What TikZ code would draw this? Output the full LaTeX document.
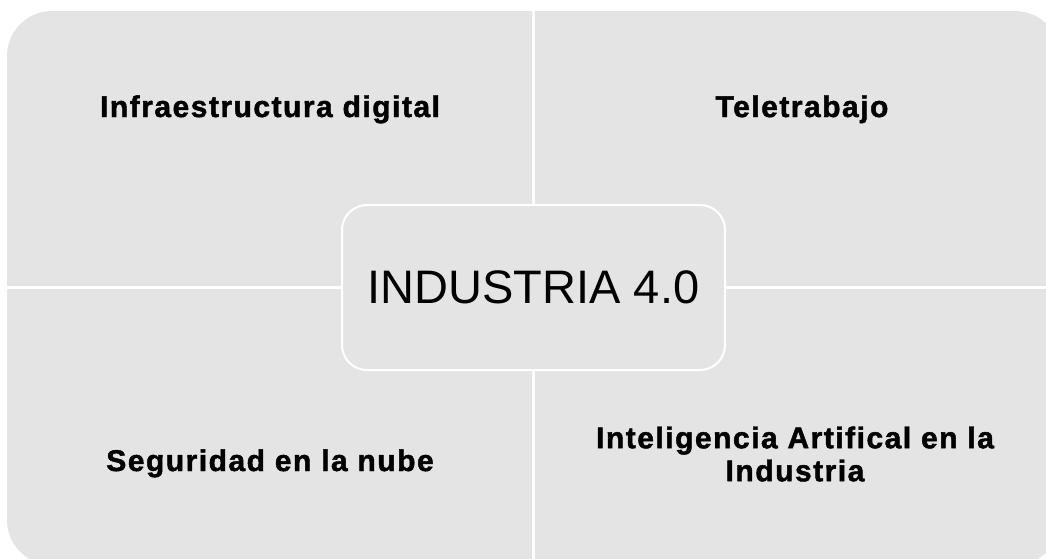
\documentclass[tikz,border=0pt]{standalone}
\usepackage{fontspec}
\setmainfont{Liberation Sans}
\newfontfamily\lblfont[LetterSpace=5,FakeBold=1.5]{Liberation Sans Bold}
\definecolor{quadgray}{HTML}{E4E4E4}

\begin{document}
\begin{tikzpicture}[x=1pt,y=-1pt]
	\tikzset{%
		quad/.style={fill=quadgray},
		lbl/.style={font=\lblfont\fontsize{30}{33}\selectfont,align=center,inner sep=0pt},
		hub/.style={draw=white,line width=2pt,fill=quadgray,rounded corners=25pt,minimum width=383pt,minimum height=165pt,font=\fontsize{47}{56}\selectfont},
	}

	\def\rad{45}

	\clip (0,0) rectangle (1046,558);

	% four quadrants, outer corner rounded (y runs down here)
	\fill [quad] (532,11) -- (7+\rad,11) arc[start angle=270,end angle=180,radius=\rad] -- (7,286) -- (532,286) -- cycle;
	\fill [quad] (535,11) -- (1060-\rad,11) arc[start angle=270,end angle=360,radius=\rad] -- (1060,286) -- (535,286) -- cycle;
	\fill [quad] (532,565) -- (7+\rad,565) arc[start angle=90,end angle=180,radius=\rad] -- (7,289) -- (532,289) -- cycle;
	\fill [quad] (535,565) -- (1060-\rad,565) arc[start angle=90,end angle=0,radius=\rad] -- (1060,289) -- (535,289) -- cycle;

	\node [lbl,anchor=base] (infra) at (270,117) {Infraestructura digital};
	\node [lbl,anchor=base] (tele) at (802,117) {Teletrabajo};
	\node [lbl,anchor=base] (segur) at (270,471) {Seguridad en la nube};
	\node [lbl] (ia) at (795,454) {Inteligencia Artifical en la\\Industria};

	\node [hub] (centro) at (533.5,287.5) {INDUSTRIA 4.0};
\end{tikzpicture}
\end{document}
